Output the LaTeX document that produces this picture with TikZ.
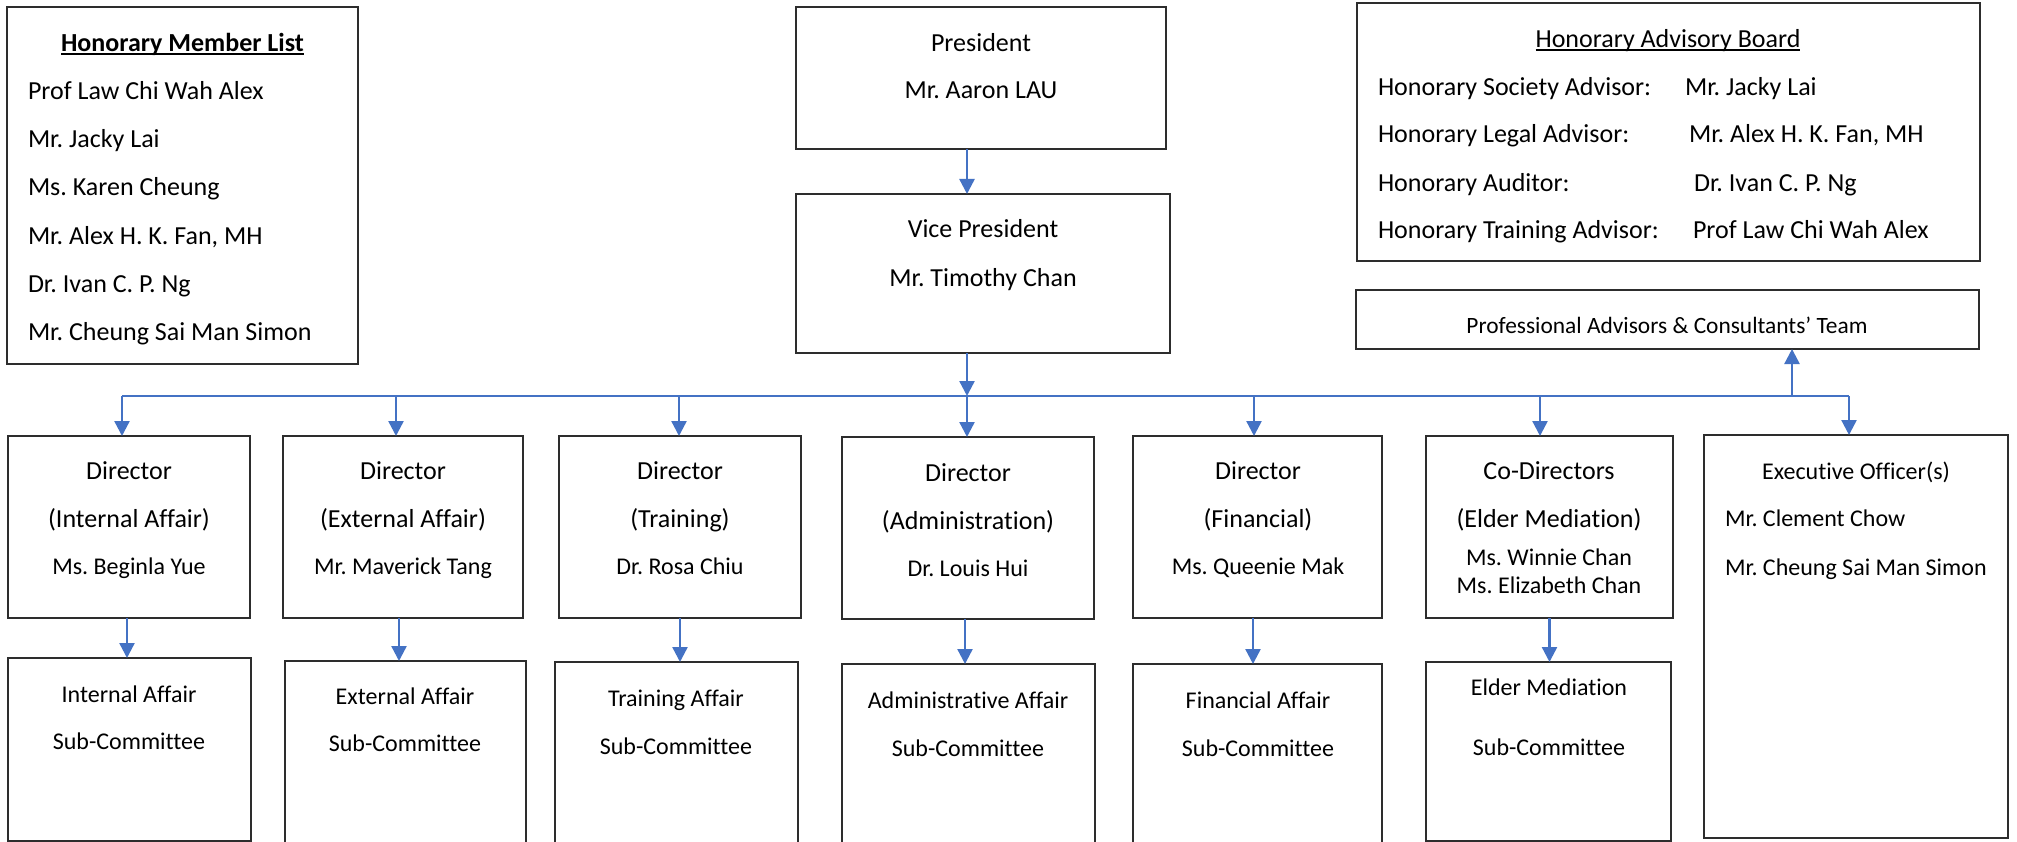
\documentclass[tikz,border=0pt]{standalone}
\usepackage{fontspec}
\setmainfont{Carlito}[Ligatures={NoCommon}]
\frenchspacing
\usetikzlibrary{arrows.meta,calc}
\definecolor{ablue}{RGB}{68,114,196}
\definecolor{bgray}{RGB}{45,45,45}
\newcommand\myul[1]{\setbox0\hbox{#1}\rlap{\rule[-2.6pt]{\wd0}{1.4pt}}\box0}
\newcommand\mybox[5]{\node[box,minimum width={#4-#2},minimum height={#5-#3}] (#1) at ({(#2+#4)/2},{(#3+#5)/2}) {};}
\begin{document}
\begin{tikzpicture}[x=1pt,y=-1pt,
  box/.style={draw=bgray,line width=1.6pt,inner sep=0pt,outer sep=0pt,fill=none},
  tc/.style={inner sep=0pt,outer sep=0pt,anchor=base,font=\fontsize{26}{30}\selectfont},
  ts/.style={inner sep=0pt,outer sep=0pt,anchor=base,font=\fontsize{24}{28}\selectfont},
  tl/.style={inner sep=0pt,outer sep=0pt,anchor=base west,font=\fontsize{26}{30}\selectfont},
  tsl/.style={inner sep=0pt,outer sep=0pt,anchor=base west,font=\fontsize{24}{28}\selectfont},
  arr/.style={draw=ablue,line width=2.4pt,-{Triangle[width=15pt,length=15pt]}},
  busline/.style={draw=ablue,line width=1.6pt}]
\fill[white] (0,0) rectangle (2017,842);
\useasboundingbox (0,0) rectangle (2017,842);

% boxes
\mybox{hml}{7}{7}{358}{364}
\mybox{pres}{796}{7}{1166}{149}
\mybox{vice}{796}{194}{1170}{353}
\mybox{hab}{1357}{3}{1980}{261}
\mybox{prof}{1356}{290}{1979}{349}
\mybox{dir1}{8}{436}{250}{618}
\mybox{dir2}{283}{436}{523}{618}
\mybox{dir3}{559}{436}{801}{618}
\mybox{dir4}{842}{437}{1094}{619}
\mybox{dir5}{1133}{436}{1382}{618}
\mybox{dir6}{1426}{436}{1673}{618}
\mybox{exec}{1704}{435}{2008}{838}
\mybox{sub1}{8}{658}{251}{841}
\mybox{sub2}{285}{661}{526}{852}
\mybox{sub3}{555}{662}{798}{852}
\mybox{sub4}{842}{664}{1095}{852}
\mybox{sub5}{1133}{664}{1382}{852}
\mybox{sub6}{1426}{662}{1671}{841}

% Honorary member list
\node[tc,font=\fontsize{26}{30}\selectfont\bfseries] (hmlt) at (182.5,52) {\myul{Honorary Member List}};
\node[tl] (hm1) at (28,100) {Prof Law Chi Wah Alex};
\node[tl] (hm2) at (28,148) {Mr. Jacky Lai};
\node[tl] (hm3) at (28,196) {Ms. Karen Cheung};
\node[tl] (hm4) at (28,244) {Mr. Alex H. K. Fan, MH};
\node[tl] (hm5) at (28,292) {Dr. Ivan C. P. Ng};
\node[tl] (hm6) at (28,340) {Mr. Cheung Sai Man Simon};

% President / Vice
\node[tc] (prest1) at (981,52) {President};
\node[tc] (prest2) at (981,99) {Mr. Aaron LAU};
\node[tc] (vicet1) at (983,238) {Vice President};
\node[tc] (vicet2) at (983,286) {Mr. Timothy Chan};

% Honorary advisory board
\node[tc] (habt) at (1668,48) {\myul{Honorary Advisory Board}};
\node[tl] (ha1) at (1378,96) {Honorary Society Advisor:};
\node[tl] (ha2) at (1378,143) {Honorary Legal Advisor:};
\node[tl] (ha3) at (1378,192) {Honorary Auditor:};
\node[tl] (ha4) at (1378,239) {Honorary Training Advisor:};
\node[tl] (hv1) at (1685,96) {Mr. Jacky Lai};
\node[tl] (hv2) at (1689,143) {Mr. Alex H. K. Fan, MH};
\node[tl] (hv3) at (1694,192) {Dr. Ivan C. P. Ng};
\node[tl] (hv4) at (1693,239) {Prof Law Chi Wah Alex};

\node[inner sep=0pt,outer sep=0pt,anchor=base,font=\fontsize{23.4}{27}\selectfont] (proft) at (1667,333) {Professional Advisors \& Consultants’ Team};

% Directors
\node[tc] (d1a) at (129,479) {Director};
\node[tc] (d1b) at (129,527) {(Internal Affair)};
\node[ts] (d1c) at (129,574) {Ms. Beginla Yue};
\node[tc] (d2a) at (403,479) {Director};
\node[tc] (d2b) at (403,527) {(External Affair)};
\node[ts] (d2c) at (403,574) {Mr. Maverick Tang};
\node[tc] (d3a) at (680,479) {Director};
\node[tc] (d3b) at (680,527) {(Training)};
\node[ts] (d3c) at (680,574) {Dr. Rosa Chiu};
\node[tc] (d4a) at (968,481) {Director};
\node[tc] (d4b) at (968,529) {(Administration)};
\node[ts] (d4c) at (968,576) {Dr. Louis Hui};
\node[tc] (d5a) at (1258,479) {Director};
\node[tc] (d5b) at (1258,527) {(Financial)};
\node[ts] (d5c) at (1258,574) {Ms. Queenie Mak};
\node[tc] (d6a) at (1549,479) {Co-Directors};
\node[tc] (d6b) at (1549,527) {(Elder Mediation)};
\node[ts] (d6c) at (1549,565) {Ms. Winnie Chan};
\node[ts] (d6d) at (1549,593) {Ms. Elizabeth Chan};
\node[ts] (ex1) at (1856,479) {Executive Officer(s)};
\node[tsl] (ex2) at (1725,526) {Mr. Clement Chow};
\node[tsl] (ex3) at (1725,575) {Mr. Cheung Sai Man Simon};

% Sub-committees
\node[ts] (s1a) at (129,702) {Internal Affair};
\node[ts] (s1b) at (129,749) {Sub-Committee};
\node[ts] (s2a) at (405,704) {External Affair};
\node[ts] (s2b) at (405,751) {Sub-Committee};
\node[ts] (s3a) at (676,706) {Training Affair};
\node[ts] (s3b) at (676,754) {Sub-Committee};
\node[ts] (s4a) at (968,708) {Administrative Affair};
\node[ts] (s4b) at (968,756) {Sub-Committee};
\node[ts] (s5a) at (1258,708) {Financial Affair};
\node[ts] (s5b) at (1258,756) {Sub-Committee};
\node[ts] (s6a) at (1549,695) {Elder Mediation};
\node[ts] (s6b) at (1549,755) {Sub-Committee};

% connectors
\coordinate (busL) at (122,396);
\coordinate (busR) at (1849,396);
\draw[busline] (busL) -- (busR);
\draw[arr] ([xshift=-14pt]pres.south) -- ([xshift=-14pt]pres.south |- vice.north);
\draw[arr] ([xshift=-16pt]vice.south) -- ([xshift=-16pt]vice.south |- busL);
\draw[arr] ([xshift=-7pt]dir1.north |- busL) -- ([xshift=-7pt]dir1.north);
\draw[arr] ([xshift=-7pt]dir2.north |- busL) -- ([xshift=-7pt]dir2.north);
\draw[arr] ([xshift=-1pt]dir3.north |- busL) -- ([xshift=-1pt]dir3.north);
\draw[arr] ([xshift=-1pt]dir4.north |- busL) -- ([xshift=-1pt]dir4.north);
\draw[arr] ([xshift=-3.5pt]dir5.north |- busL) -- ([xshift=-3.5pt]dir5.north);
\draw[arr] ([xshift=-9.5pt]dir6.north |- busL) -- ([xshift=-9.5pt]dir6.north);
\draw[arr] ([xshift=-7pt]exec.north |- busR) -- ([xshift=-7pt]exec.north);
\draw[arr] ([xshift=124.5pt]prof.south |- busL) -- ([xshift=124.5pt]prof.south);

\draw[arr] ([xshift=-2pt]dir1.south) -- ([xshift=-2pt]dir1.south |- sub1.north);
\draw[arr] ([xshift=-4pt]dir2.south) -- ([xshift=-4pt]dir2.south |- sub2.north);
\draw[arr] (dir3.south) -- (dir3.south |- sub3.north);
\draw[arr] ([xshift=-3pt]dir4.south) -- ([xshift=-3pt]dir4.south |- sub4.north);
\draw[arr] ([xshift=-4.5pt]dir5.south) -- ([xshift=-4.5pt]dir5.south |- sub5.north);
\draw[arr] (dir6.south) -- (dir6.south |- sub6.north);
\end{tikzpicture}
\end{document}
